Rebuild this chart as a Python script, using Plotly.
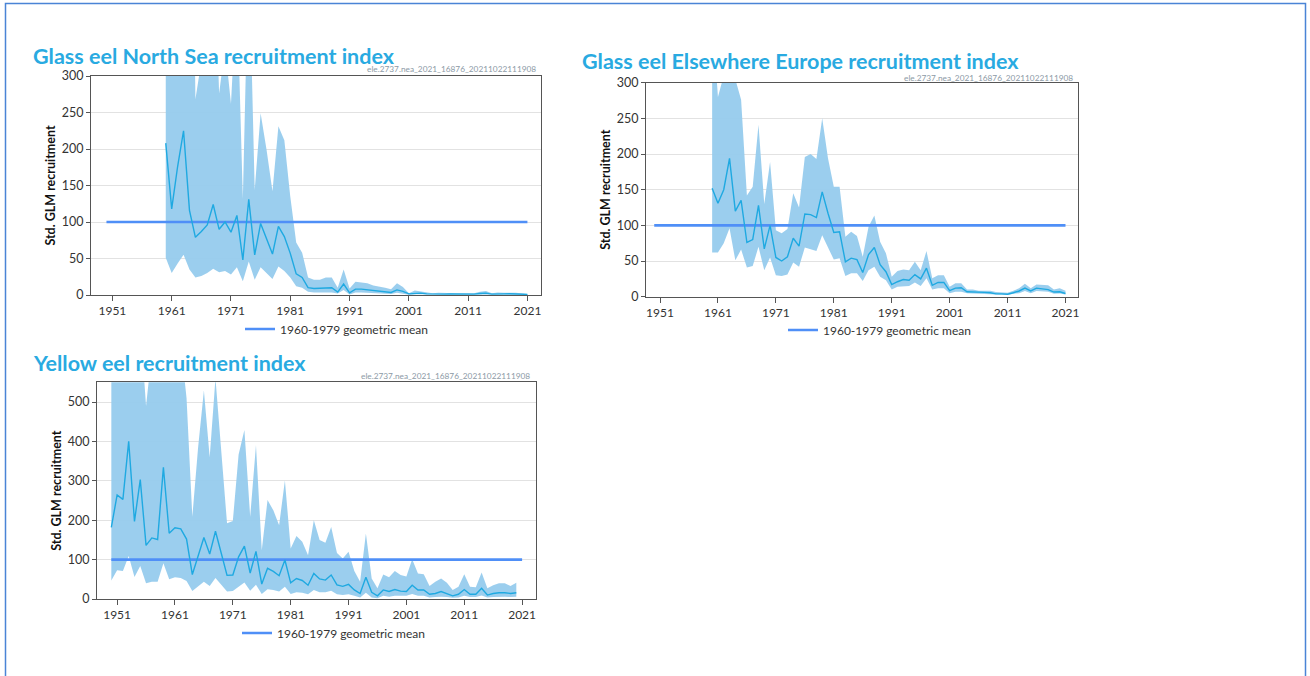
import plotly.graph_objects as go

W, H = 1310, 676

# ---------------- data ----------------
ns_years = list(range(1960, 2022))
ns_index = [208, 118, 176, 225, 116, 79, 87, 96, 124, 90,
            100, 86, 109, 48, 131, 55, 98, 78, 56, 94,
            80, 57, 29, 24, 10, 9, 9, 10, 10, 4,
            15, 3, 8, 8, 7, 5.5, 5.5, 4.5, 3.5, 7,
            5, 1.5, 2.5, 2.5, 1.5, 1.2, 1.5, 1.2, 1.5, 1.3,
            1.2, 1.0, 1.2, 2.0, 2.5, 1.2, 1.8, 1.5, 1.8, 1.5,
            1.2, 0.8]
ns_upper = [600, 520, 700, 900, 900, 268, 320, 600, 520, 276,
            340, 262, 420, 132, 480, 144, 249, 199, 142, 231,
            212, 135, 72, 58, 24, 21, 21, 24, 24, 10,
            35, 9, 18, 17, 16, 13, 12, 10, 8, 16,
            11, 2.5, 6, 5, 3, 2.5, 3, 2.5, 3, 2.5,
            2.5, 2.2, 2.5, 4.5, 5.5, 2.5, 3.5, 3, 3.5, 3,
            2.5, 1.5]
ns_lower = [51, 30, 43, 55, 35, 24, 26, 30, 36, 31,
            33, 28, 38, 19, 46, 21, 38, 30, 22, 39,
            33, 24, 12, 10, 4.5, 3.5, 3.5, 3.5, 3.5, 2,
            7, 0.8, 3.5, 3.5, 3, 2.5, 2.5, 2, 1.5, 3,
            2, 0.5, 1, 1, 0.6, 0.5, 0.6, 0.5, 0.6, 0.5,
            0.5, 0.4, 0.5, 0.8, 1, 0.5, 0.7, 0.6, 0.7, 0.6,
            0.5, 0.3]

ee_years = list(range(1960, 2022))
ee_index = [152, 131, 150, 194, 120, 135, 76, 80, 128, 67,
            100, 55, 50, 56, 82, 71, 116, 115, 111, 147,
            117, 90, 91, 49, 54, 52, 34, 59, 69, 45,
            35, 17, 21, 24, 23, 31, 25, 40, 16, 20,
            20, 8.5, 12, 12.5, 7, 7, 6, 6, 5.5, 4,
            4, 3.5, 5.5, 8, 12, 8, 12, 11, 10, 6.5,
            7, 4.5]
ee_upper = [400, 280, 310, 330, 305, 276, 142, 154, 241, 130,
            189, 93, 89, 95, 145, 125, 196, 200, 193, 250,
            194, 154, 154, 84, 91, 85, 56, 98, 114, 77,
            61, 28, 36, 38, 37, 49, 37, 64, 26, 30,
            30, 14, 19, 19, 10, 10, 8.5, 9, 8.5, 6.5,
            6.5, 5.5, 8.5, 12, 18, 12, 17, 16, 16, 10,
            12, 8.5]
ee_lower = [62, 62, 75, 96, 51, 66, 41, 43, 70, 37,
            55, 30, 29, 31, 48, 42, 69, 67, 64, 86,
            68, 52, 54, 29, 33, 33, 22, 37, 42, 28,
            23, 10, 14, 15, 15, 20, 15, 26, 10, 12,
            12, 5, 7, 7, 5, 4.5, 4, 4, 3.5, 3,
            3, 2.5, 4, 5, 8, 5, 8, 7, 7, 4,
            4.5, 3]

ye_years = list(range(1950, 2021))
ye_index = [182, 264, 253, 400, 197, 303, 136, 155, 151, 334,
            167, 181, 178, 152, 62, 112, 156, 114, 172, 116,
            60, 61, 107, 134, 66, 121, 38, 78, 70, 59,
            99, 41, 52, 47, 35, 65, 51, 48, 61, 36,
            32, 37, 23, 14, 55, 17, 8, 23, 19, 24,
            20, 19, 35, 23, 23, 12, 14, 19, 14, 8,
            12, 24, 12, 12, 27, 10, 14, 16, 16, 14,
            16]
ye_upper = [700, 750, 800, 900, 800, 700, 490, 650, 800, 900,
            800, 700, 650, 510, 209, 385, 529, 360, 560, 380,
            192, 198, 367, 429, 209, 390, 124, 251, 225, 187,
            301, 128, 160, 145, 111, 200, 150, 143, 183, 117,
            103, 120, 71, 44, 166, 52, 27, 62, 55, 71,
            61, 57, 101, 65, 63, 33, 44, 52, 41, 23,
            31, 63, 31, 30, 67, 27, 35, 40, 40, 33,
            41]
ye_lower = [47, 73, 71, 109, 56, 84, 40, 44, 44, 91,
            50, 55, 53, 46, 20, 33, 44, 33, 53, 36,
            19, 20, 32, 42, 21, 36, 13, 25, 23, 19,
            31, 13, 17, 16, 12, 23, 17, 17, 21, 12,
            10, 12, 8, 4, 16, 4, 2, 8, 6, 8,
            8, 8, 13, 8, 8, 4, 5, 6, 5, 3,
            4, 8, 5, 5, 9, 4, 5, 6, 6, 5,
            6]

mean_years = [1950, 2021]
mean_values = [100, 100]

x_tickvals = [1951, 1961, 1971, 1981, 1991, 2001, 2011, 2021]
glass_yticks = [0, 50, 100, 150, 200, 250, 300]
yellow_yticks = [0, 100, 200, 300, 400, 500]

titles = ["Glass eel North Sea recruitment index",
          "Glass eel Elsewhere Europe recruitment index",
          "Yellow eel recruitment index"]
watermark = "ele.2737.nea_2021_16876_20211022111908"
legend_label = "1960-1979 geometric mean"
y_title = "Std. GLM recruitment"

# ---------------- style ----------------
TITLE_C = "#29aae1"
LINE_C = "#1fa9e1"
FILL_C = "rgba(150,203,237,0.95)"
MEAN_C = "#4f8ff7"
AXIS_C = "#555555"
GRID_C = "#e2e2e2"
FONT = "Lato"


def fx(p):
    return p / W


def fy(p):
    return 1 - p / H


panels = [
    dict(years=ns_years, idx=ns_index, up=ns_upper, lo=ns_lower,
         box=(91, 541, 76, 295), xr=[1947.39, 2023.29], yr=[0, 300], yt=glass_yticks,
         title=titles[0], tpos=(31, 56), wm=(538, 69.5), leg=(240, 329)),
    dict(years=ee_years, idx=ee_index, up=ee_upper, lo=ee_lower,
         box=(646, 1078, 82.7, 296.7), xr=[1948.58, 2023.16], yr=[0, 300], yt=glass_yticks,
         title=titles[1], tpos=(580, 61.5), wm=(1075, 77.5), leg=(783, 330)),
    dict(years=ye_years, idx=ye_index, up=ye_upper, lo=ye_lower,
         box=(97.1, 535.7, 382.3, 599), xr=[1947.54, 2023.35], yr=[0, 550], yt=yellow_yticks,
         title=titles[2], tpos=(31, 363), wm=(532, 376), leg=(237, 633)),
]

fig = go.Figure()
layout = dict(width=W, height=H, margin=dict(l=0, r=0, t=0, b=0, pad=0, autoexpand=False),
              paper_bgcolor="white", plot_bgcolor="white",
              font=dict(family=FONT, size=12, color="#333333"),
              annotations=[], shapes=[])

for i, p in enumerate(panels):
    s = "" if i == 0 else str(i + 1)
    xa, ya = "x" + s, "y" + s
    lg = "legend" + s
    common = dict(xaxis=xa, yaxis=ya, hoverinfo="skip", showlegend=False)
    fig.add_trace(go.Scatter(x=p["years"], y=p["up"], mode="lines",
                             line=dict(width=0, color=FILL_C), **common))
    fig.add_trace(go.Scatter(x=p["years"], y=p["lo"], mode="lines", fill="tonexty",
                             fillcolor=FILL_C, line=dict(width=0, color=FILL_C), **common))
    fig.add_trace(go.Scatter(x=mean_years, y=mean_values, mode="lines", name=legend_label,
                             line=dict(width=2.6, color=MEAN_C), xaxis=xa, yaxis=ya,
                             showlegend=True, legend=lg))
    fig.add_trace(go.Scatter(x=p["years"], y=p["idx"], mode="lines",
                             line=dict(width=1.4, color=LINE_C), **common))

    l, r, t, b = p["box"]
    layout["xaxis" + s] = dict(domain=[fx(l), fx(r)], range=p["xr"], anchor=ya,
                               tickvals=x_tickvals, ticks="outside", ticklen=5,
                               tickcolor=AXIS_C, showline=True, mirror=True,
                               linecolor=AXIS_C, linewidth=1, showgrid=False,
                               zeroline=False, automargin=False,
                               tickfont=dict(size=12, color="#333"))
    layout["yaxis" + s] = dict(domain=[fy(b), fy(t)], range=p["yr"], anchor=xa,
                               tickvals=p["yt"], ticks="outside", ticklen=4,
                               tickcolor=AXIS_C, showline=True, mirror=True,
                               linecolor=AXIS_C, linewidth=1, showgrid=True,
                               gridcolor=GRID_C, zeroline=False, automargin=False,
                               tickfont=dict(size=12.5, color="#333"),
                               title=dict(text="<b>" + y_title + "</b>",
                                          font=dict(size=12.5, color="#111"), standoff=3))
    layout[lg] = dict(x=fx(p["leg"][0]), y=fy(p["leg"][1]), xanchor="left", yanchor="middle",
                      bgcolor="rgba(0,0,0,0)", borderwidth=0,
                      font=dict(size=12, color="#333", family=FONT))
    layout["annotations"].append(dict(
        text="<b>" + p["title"] + "</b>", xref="paper", yref="paper",
        x=fx(p["tpos"][0]), y=fy(p["tpos"][1]), xanchor="left", yanchor="middle",
        showarrow=False, font=dict(size=21.5, color=TITLE_C, family=FONT)))
    layout["annotations"].append(dict(
        text=watermark, xref="paper", yref="paper",
        x=fx(p["wm"][0]), y=fy(p["wm"][1]), xanchor="right", yanchor="middle",
        showarrow=False, font=dict(size=8.3, color="#8c9aa6", family=FONT)))

layout["shapes"].append(dict(type="rect", xref="paper", yref="paper",
                             x0=fx(5.5), x1=fx(1305.5), y0=-0.05, y1=fy(3.5),
                             line=dict(color="#4a84d6", width=1.5), layer="above"))

fig.update_layout(**layout)
fig.write_html(
    "out.html",
    config={"displayModeBar": False},
    post_script=("document.body.style.margin='0';document.body.style.padding='0';"
                 "document.body.style.overflow='hidden';"
                 "var gd=document.getElementById('{plot_id}');"
                 "gd.style.position='fixed';gd.style.top='0px';gd.style.left='0px';"),
)
